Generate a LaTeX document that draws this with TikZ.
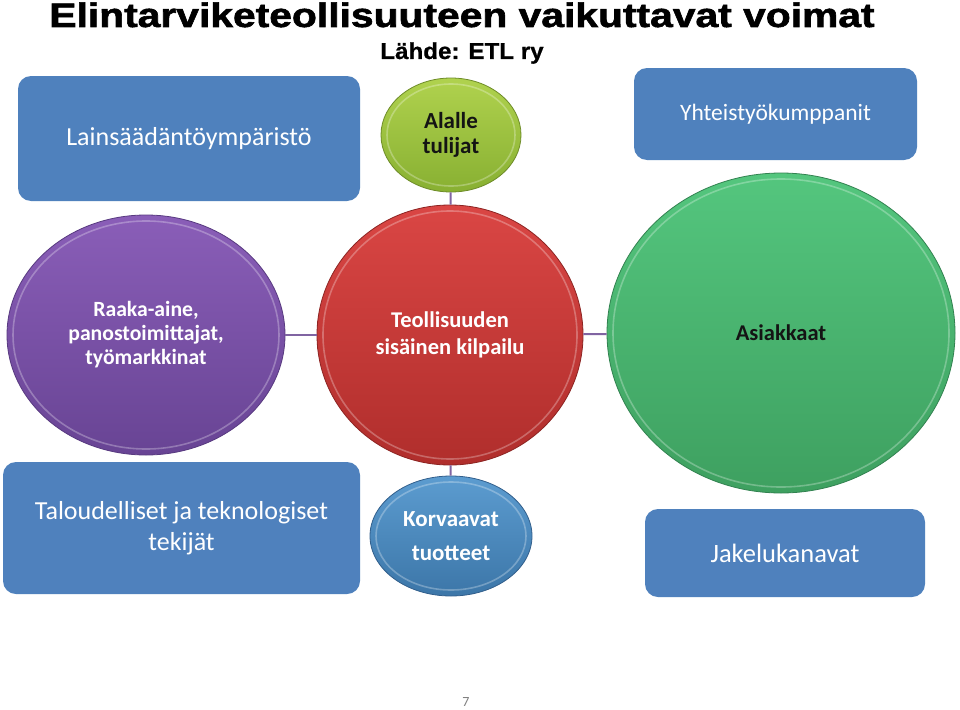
\documentclass[tikz,border=0pt]{standalone}
\usepackage{fontspec}
\setmainfont{Carlito}
\newfontfamily\titlefont[FakeBold=1.6]{Liberation Sans Bold}
\newfontfamily\subfont[FakeBold=0.8]{Liberation Sans Bold}
\usetikzlibrary{shapes.geometric}
\definecolor{boxblue}{HTML}{4F81BD}
\definecolor{linkpurple}{HTML}{8064A2}
\definecolor{txtdark}{HTML}{141414}
\tikzset{
  bluebox/.style={rectangle, rounded corners=13pt, fill=boxblue, draw=none,
    text=white, align=center, inner sep=0pt},
  bubble/.style={ellipse, inner sep=0pt, align=center, line width=0.8pt},
  link/.style={draw=linkpurple, line width=2pt},
  bevel/.style={white, opacity=0.28, line width=1.6pt}
}
\begin{document}
\begin{tikzpicture}[x=1pt,y=-1pt]
\useasboundingbox[fill=white] (0,0) rectangle (960,709);

% title
\node[font=\titlefont\fontsize{34}{38}\selectfont, xscale=1.2, inner sep=0pt, anchor=base] (title) at (462,27) {Elintarviketeollisuuteen vaikuttavat voimat};
\node[font=\subfont\fontsize{23}{26}\selectfont, xscale=1.05, inner sep=0pt, anchor=base] (source) at (462,59) {Lähde: ETL ry};

% boxes
\node[bluebox, minimum width=342pt, minimum height=125pt, font=\fontsize{26}{30}\selectfont] (laki) at (189,138.5) {Lainsäädäntöympäristö};
\node[bluebox, minimum width=283pt, minimum height=92pt, font=\fontsize{23.5}{27}\selectfont] (yht) at (775.5,114) {Yhteistyökumppanit};
\node[bluebox, minimum width=357pt, minimum height=132pt, font=\fontsize{26}{31}\selectfont] (talous) at (181.5,528) {Taloudelliset ja teknologiset\\tekijät};
\node[bluebox, minimum width=280pt, minimum height=88pt, font=\fontsize{26.5}{30}\selectfont] (jakelu) at (785,553) {Jakelukanavat};

% bubbles
\node[bubble, minimum width=266pt, minimum height=260pt,
  top color={rgb,255:red,218;green,70;blue,68}, bottom color={rgb,255:red,176;green,46;blue,44},
  draw={rgb,255:red,140;green,36;blue,34}, text=white,
  font=\bfseries\fontsize{22.5}{27}\selectfont] (kilpailu) at (450,335) {Teollisuuden\\sisäinen kilpailu};
\node[bubble, minimum width=140pt, minimum height=114pt,
  top color={rgb,255:red,176;green,210;blue,78}, bottom color={rgb,255:red,136;green,176;blue,50},
  draw={rgb,255:red,110;green,140;blue,40}, text=txtdark,
  font=\bfseries\fontsize{23}{25}\selectfont] (tulijat) at (451,135) {Alalle\\tulijat};
\node[bubble, minimum width=278pt, minimum height=240pt,
  top color={rgb,255:red,138;green,94;blue,184}, bottom color={rgb,255:red,104;green,68;blue,148},
  draw={rgb,255:red,88;green,58;blue,128}, text=white,
  font=\bfseries\fontsize{21.7}{24}\selectfont] (raaka) at (146,335) {Raaka-aine,\\panostoimittajat,\\työmarkkinat};
\node[bubble, minimum width=348pt, minimum height=320pt,
  top color={rgb,255:red,84;green,198;blue,126}, bottom color={rgb,255:red,62;green,160;blue,96},
  draw={rgb,255:red,50;green,130;blue,80}, text=txtdark,
  font=\bfseries\fontsize{22.5}{26}\selectfont] (asiakkaat) at (781,333) {Asiakkaat};
\node[bubble, minimum width=162pt, minimum height=120pt,
  top color={rgb,255:red,92;green,156;blue,208}, bottom color={rgb,255:red,60;green,118;blue,168},
  draw={rgb,255:red,50;green,95;blue,140}, text=white,
  font=\bfseries\fontsize{23}{34}\selectfont] (korvaavat) at (451,536) {Korvaavat\\tuotteet};

% bevel highlights
\foreach \n/\rx/\ry in {kilpailu/127/124, tulijat/64/51, raaka/133/114, asiakkaat/168/154, korvaavat/75/54}{
  \draw[bevel] (\n.center) ellipse [x radius=\rx, y radius=\ry];
}

% connectors
\draw[link] (tulijat) -- (kilpailu);
\draw[link] (raaka) -- (kilpailu);
\draw[link] (kilpailu) -- (asiakkaat);
\draw[link] (kilpailu) -- (korvaavat);

% page number
\node[text=gray, font=\fontsize{14}{16}\selectfont, inner sep=0pt] (page) at (466,702) {7};
\end{tikzpicture}
\end{document}
